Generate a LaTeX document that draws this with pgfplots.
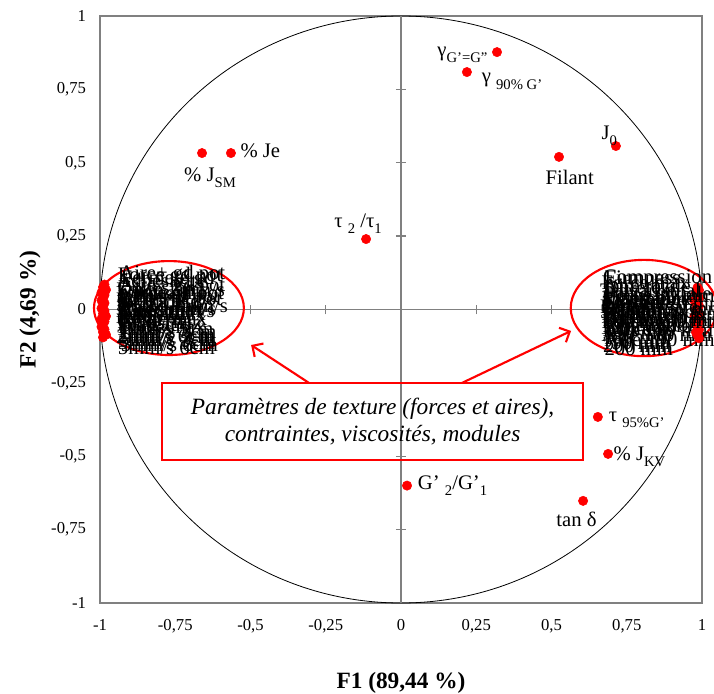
\documentclass[border=0pt]{standalone}
\usepackage{pgfplots}
\pgfplotsset{compat=1.18}
\usepackage{fontspec}
\setmainfont{Liberation Serif}
\usetikzlibrary{arrows.meta}
\newcommand\lf{\fontsize{15.5}{15.5}\selectfont}
\newcommand\sbs[1]{\raisebox{-0.3em}{\fontsize{11}{11}\selectfont #1}}
\pgfplotsset{
  pt/.style={only marks, mark=*, mark size=3.5pt, color=red,
    point meta=explicit symbolic, nodes near coords,
    nodes near coords style={font=\lf, text=black, inner sep=1pt}},
  cl/.style={only marks, mark=*, mark size=3.5pt, color=red,
    point meta=explicit symbolic, nodes near coords,
    nodes near coords style={font=\lf, text=black, inner sep=0pt, align=left, anchor=west}},
}
\begin{document}
\begin{tikzpicture}
\useasboundingbox (-75pt,-67.5pt) rectangle (460.5pt,452.25pt);
\begin{axis}[
  at={(0,0)}, anchor=south west,
  scale only axis, width=451.5pt, height=440.25pt,
  xmin=-1, xmax=1, ymin=-1, ymax=1,
  clip=false,
  axis line style={draw=black!50, line width=1.3pt},
  xtick={-1,-0.75,-0.5,-0.25,0,0.25,0.5,0.75,1},
  ytick={-1,-0.75,-0.5,-0.25,0,0.25,0.5,0.75,1},
  xticklabels={-1,{-0,75},{-0,5},{-0,25},0,{0,25},{0,5},{0,75},1},
  yticklabels={-1,{-0,75},{-0,5},{-0,25},0,{0,25},{0,5},{0,75},1},
  tick style={draw=none}, major tick length=0pt,
  ticklabel style={font=\fontsize{12.5}{14}\selectfont},
  xticklabel style={yshift=-9pt},
  yticklabel style={xshift=-7pt},
  xlabel={F1 (89,44 \%)}, ylabel={F2 (4,69 \%)},
  label style={font=\fontsize{17.5}{20}\selectfont\bfseries},
  xlabel style={at={(axis description cs:0.5,-0.1363)}, anchor=center},
  ylabel style={at={(axis description cs:-0.1163,0.5)}, anchor=center},
]
% unit circle and centre lines
\draw[black, line width=0.6pt] (axis cs:0,0) ellipse [x radius=1, y radius=1];
\draw[black!50, line width=1.3pt] (axis cs:-1,0) -- (axis cs:1,0);
\draw[black!50, line width=1.3pt] (axis cs:0,-1) -- (axis cs:0,1);
\pgfplotsinvokeforeach{-0.75,-0.5,-0.25,0.25,0.5,0.75}{
  \draw[black!50, line width=1pt] (axis cs:#1,-0.017) -- (axis cs:#1,0.017);
  \draw[black!50, line width=1pt] (axis cs:-0.017,#1) -- (axis cs:0.017,#1);
}
% annotations
\draw[red, line width=1.6pt] (axis cs:-0.771,0.005) ellipse [x radius=0.249, y radius=0.160];
\draw[red, line width=1.6pt] (axis cs:0.807,0.005) ellipse [x radius=0.243, y radius=0.164];
\draw[red, line width=1.6pt] (axis cs:-0.794,-0.250) rectangle (axis cs:0.605,-0.513);
\node[font=\fontsize{17.5}{20.5}\selectfont\itshape, align=center] at (axis cs:-0.0945,-0.3815)
  {Paramètres de texture (forces et aires),\\contraintes, viscosités, modules};
\draw[red, line width=1.6pt, -{Straight Barb[length=6pt,width=12pt]}] (axis cs:-0.306,-0.250) -- (axis cs:-0.498,-0.121);
\draw[red, line width=1.6pt, -{Straight Barb[length=6pt,width=12pt]}] (axis cs:0.203,-0.250) -- (axis cs:0.565,-0.073);

% individual variables
\addplot[pt, nodes near coords style={anchor=east, xshift=-6pt, yshift=-2pt}] coordinates {(0.319,0.877) [{γ\sbs{G'=G"}}]};
\addplot[pt, nodes near coords style={anchor=west, xshift=10pt, yshift=-7pt}] coordinates {(0.219,0.809) [{γ \sbs{90\% G'}}]};
\addplot[pt, nodes near coords style={anchor=west, xshift=6pt, yshift=2pt}] coordinates {(-0.565,0.533) [{\% Je}]};
\addplot[pt, nodes near coords style={anchor=north, xshift=6pt, yshift=-10pt}] coordinates {(-0.661,0.533) [{\% J\sbs{SM}}]};
\addplot[pt, nodes near coords style={anchor=south east, xshift=2pt, yshift=-1pt}] coordinates {(0.714,0.557) [{J\sbs{0}}]};
\addplot[pt, nodes near coords style={anchor=north, xshift=8pt, yshift=-9pt}] coordinates {(0.525,0.520) [{Filant}]};
\addplot[pt, nodes near coords style={anchor=south, xshift=-6pt, yshift=3pt}] coordinates {(-0.116,0.240) [{τ \sbs{2} /τ\sbs{1}}]};
\addplot[pt, nodes near coords style={anchor=west, xshift=7pt}] coordinates {(0.020,-0.600) [{G' \sbs{2}/G'\sbs{1}}]};
\addplot[pt, nodes near coords style={anchor=west, xshift=7pt, yshift=-2pt}] coordinates {(0.654,-0.366) [{τ \sbs{95\%G'}}]};
\addplot[pt, nodes near coords style={anchor=west, xshift=3pt, yshift=-2pt}] coordinates {(0.688,-0.492) [{\% J\sbs{KV}}]};
\addplot[pt, nodes near coords style={anchor=north, xshift=-5pt, yshift=-7pt}] coordinates {(0.605,-0.652) [{tan δ}]};

% left cluster: texture parameters
\addplot[cl, nodes near coords style={xshift=11pt}] coordinates {
(-0.985,0.085) [{Aire+ gd pot\\Force gd pot}]
(-0.990,0.076) [{Force gd pot\\Aire+ pt pot}]
(-0.980,0.067) [{Fermeté gd\\Aire− pt pot}]
(-0.995,0.058) [{Adhésivité\\gd pot}]
(-0.985,0.049) [{Aire− gd pot\\Force 1mm/s}]
(-0.990,0.040) [{Cohésion\\Aire 1mm/s}]
(-0.995,0.031) [{Force 2mm/s\\Aire 2mm/s}]
(-0.985,0.022) [{Contrainte\\seuil Pa}]
(-0.990,0.013) [{η 0,1 s-1\\η 1 s-1}]
(-0.995,0.004) [{η 10 s-1\\η 100 s-1}]
(-0.985,-0.005) [{G' 1 Hz\\G" 1 Hz}]
(-0.990,-0.014) [{G' 0,1 Hz\\G" 0,1 Hz}]
(-0.980,-0.023) [{Module G*\\plateau}]
(-0.995,-0.032) [{Force max\\1mm/s 3cm}]
(-0.985,-0.041) [{Aire+\\1mm/s 3cm}]
(-0.990,-0.050) [{Force max\\2mm/s 3cm}]
(-0.995,-0.059) [{Aire+\\2mm/s 6cm}]
(-0.985,-0.068) [{Force max\\5mm/s 3cm}]
(-0.990,-0.077) [{Aire+\\5mm/s 3cm}]
(-0.980,-0.086) [{Aire−\\5mm/s 6cm}]
(-0.990,-0.095) [{Force max\\5mm/s 6cm}]
};

% right cluster: texture parameters
\addplot[cl, nodes near coords style={xshift=-71pt}] coordinates {
(0.985,0.075) [{Compression\\Finesse}]
(0.990,0.066) [{Firmness\\Compliance}]
(0.980,0.057) [{Force max\\20 mm}]
(0.985,0.048) [{Aire totale\\20 mm}]
(0.990,0.039) [{Dureté\\50 mm}]
(0.975,0.030) [{Travail total\\50 mm}]
(0.985,0.021) [{Pente initiale\\80 mm}]
(0.990,0.012) [{Force 80 mm\\Aire 80 mm}]
(0.980,0.003) [{Résistance\\100 mm}]
(0.985,-0.006) [{Elasticité\\100 mm}]
(0.990,-0.015) [{Force 120 mm\\Pénétration}]
(0.975,-0.024) [{Pente finale\\120 mm}]
(0.985,-0.033) [{Force 150 mm\\Aire 150 mm}]
(0.990,-0.042) [{Pic de force\\150 mm}]
(0.980,-0.051) [{Force 180 mm\\Aire 180 mm}]
(0.985,-0.060) [{P/Force max\\180 mm}]
(0.990,-0.069) [{Pente 180 mm\\Aire 190 mm}]
(0.980,-0.078) [{Force 190 mm\\190 mm}]
(0.985,-0.088) [{Aire totale\\200 mm}]
(0.990,-0.098) [{Force à\\200 mm}]
};
\end{axis}
\end{tikzpicture}
\end{document}
